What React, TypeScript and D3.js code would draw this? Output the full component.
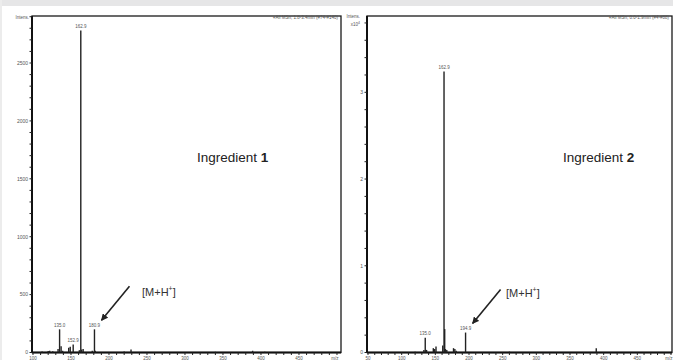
import { useEffect, useRef } from "react";
import * as d3 from "d3";

// Ingredient 1 spectrum (counts)
const mzOne = [112, 120, 122, 126, 133, 135.0, 137, 139, 147, 149, 152.9, 161, 162.9, 164, 166, 178, 180.9, 182, 220, 229, 270, 340, 389, 405];
const intensityOne = [8, 12, 15, 10, 30, 200, 55, 15, 40, 50, 70, 20, 2780, 25, 30, 15, 200, 15, 8, 25, 5, 6, 15, 6];
const labelsOne = [135.0, 152.9, 162.9, 180.9];

// Ingredient 2 spectrum (x10^4)
const mzTwo = [100, 120, 133, 135.0, 137, 147, 149, 151, 161, 162.9, 163.9, 165, 167, 177, 179, 181, 194.9, 260, 389];
const intensityTwo = [0.005, 0.01, 0.03, 0.17, 0.03, 0.05, 0.04, 0.07, 0.08, 3.24, 0.27, 0.04, 0.03, 0.05, 0.04, 0.02, 0.23, 0.01, 0.05];
const labelsTwo = [135.0, 162.9, 194.9];

const xTicksOne = [100, 150, 200, 250, 300, 350, 400, 450];
const xTicksTwo = [50, 100, 150, 200, 250, 300, 350, 400, 450];
const yTicksOne = [0, 500, 1000, 1500, 2000, 2500];
const yTicksTwo = [0, 1, 2, 3];

const panels = [
  {
    mz: mzOne, intensity: intensityOne, labels: labelsOne,
    xTicks: xTicksOne, yTicks: yTicksOne,
    xDomain: [98.7, 505.3], yMax: 2906, minorY: 100,
    left: 32, right: 341, title: "+All MSn, 1.8-3.4min (#74-#140)",
    name: "1", namePos: [197, 162], mh: 180.9, mhText: [142, 296],
  },
  {
    mz: mzTwo, intensity: intensityTwo, labels: labelsTwo,
    xTicks: xTicksTwo, yTicks: yTicksTwo,
    xDomain: [48.5, 501.5], yMax: 3.88, minorY: 0.2,
    left: 367, right: 672, title: "+All MSn, 0.0-1.9min (#4-#88)",
    name: "2", namePos: [563, 162], mh: 194.9, mhText: [506, 297],
  },
];

function App() {
  const svgRef = useRef<SVGSVGElement>(null);

  useEffect(() => {
    const width = 673;
    const height = 360;
    const top = 16;
    const bottom = 352.5;
    const font = "Arial, 'Liberation Sans', sans-serif";

    const svg = d3.select(svgRef.current);
    svg.selectAll("*").remove();
    svg.attr("width", width).attr("height", height).style("font-family", font);

    svg.append("rect").attr("width", width).attr("height", height).attr("fill", "#fff");
    svg.append("rect").attr("width", width).attr("height", 6).attr("fill", "#e6e6e7");
    svg.append("rect").attr("width", 2).attr("height", height).attr("fill", "#ececec");

    const defs = svg.append("defs");
    defs.append("marker")
      .attr("id", "head")
      .attr("viewBox", "0 0 10 10")
      .attr("refX", 9).attr("refY", 5)
      .attr("markerWidth", 7).attr("markerHeight", 7)
      .attr("markerUnits", "userSpaceOnUse")
      .attr("orient", "auto")
      .append("path").attr("d", "M0,0 L10,5 L0,10 z").attr("fill", "#222");

    panels.forEach((p) => {
      const x = d3.scaleLinear().domain(p.xDomain).range([p.left, p.right]);
      const y = d3.scaleLinear().domain([0, p.yMax]).range([bottom, top]);
      const g = svg.append("g");

      // box
      g.append("rect")
        .attr("x", p.left).attr("y", top)
        .attr("width", p.right - p.left).attr("height", bottom - top)
        .attr("fill", "none").attr("stroke", "#1a1a1a").attr("stroke-width", 1.3);
      g.append("line")
        .attr("x1", p.left).attr("x2", p.left).attr("y1", top).attr("y2", bottom)
        .attr("stroke", "#111").attr("stroke-width", 2);
      g.append("line")
        .attr("x1", p.left).attr("x2", p.right).attr("y1", bottom).attr("y2", bottom)
        .attr("stroke", "#111").attr("stroke-width", 2);

      // y ticks
      const minor = d3.range(0, p.yMax, p.minorY);
      g.selectAll(".ymin").data(minor).join("line")
        .attr("x1", p.left - 2.5).attr("x2", p.left)
        .attr("y1", (d) => y(d)).attr("y2", (d) => y(d))
        .attr("stroke", "#222").attr("stroke-width", 1);
      g.selectAll(".ylab").data(p.yTicks).join("text")
        .attr("x", p.left - 4).attr("y", (d) => y(d) + 1.8)
        .attr("text-anchor", "end").attr("font-size", 5).attr("fill", "#555")
        .text((d) => String(d));

      // x ticks
      const xMinor = d3.range(Math.ceil(p.xDomain[0] / 10) * 10, p.xDomain[1], 10);
      g.selectAll(".xmin").data(xMinor).join("line")
        .attr("x1", (d) => x(d)).attr("x2", (d) => x(d))
        .attr("y1", bottom).attr("y2", bottom + 2.5)
        .attr("stroke", "#222").attr("stroke-width", 1);
      g.selectAll(".xlab").data(p.xTicks).join("text")
        .attr("x", (d) => x(d)).attr("y", bottom + 7)
        .attr("text-anchor", "middle").attr("font-size", 4.5).attr("fill", "#555")
        .text((d) => String(d));
      g.append("text")
        .attr("x", x(500) - 2).attr("y", bottom + 7)
        .attr("text-anchor", "middle").attr("font-size", 4.5).attr("fill", "#555")
        .text("m/z");

      // peaks
      const peaks = p.mz.map((m, i) => ({ m, v: p.intensity[i] }));
      g.selectAll(".peak").data(peaks).join("line")
        .attr("x1", (d) => x(d.m)).attr("x2", (d) => x(d.m))
        .attr("y1", bottom).attr("y2", (d) => y(d.v))
        .attr("stroke", "#222").attr("stroke-width", 1.4);
      g.selectAll(".plab").data(peaks.filter((d) => p.labels.includes(d.m))).join("text")
        .attr("x", (d) => x(d.m)).attr("y", (d) => y(d.v) - 2.5)
        .attr("text-anchor", "middle").attr("font-size", 4.5).attr("fill", "#555")
        .text((d) => d.m.toFixed(1));

      // header texts
      g.append("text")
        .attr("x", p.right - 3).attr("y", top + 3)
        .attr("text-anchor", "end").attr("font-size", 4.5).attr("fill", "#555")
        .text(p.title);

      // ingredient name
      const nm = g.append("text")
        .attr("x", p.namePos[0]).attr("y", p.namePos[1])
        .attr("font-size", 13.5).attr("fill", "#222");
      nm.append("tspan").text("Ingredient ");
      nm.append("tspan").attr("font-weight", "bold").text(p.name);

      // [M+H+] arrow
      const mhIdx = p.mz.indexOf(p.mh);
      const tipX = x(p.mh) + 7;
      const tipY = y(p.intensity[mhIdx]) - 9;
      g.append("line")
        .attr("x1", tipX + 28).attr("y1", tipY - 34)
        .attr("x2", tipX).attr("y2", tipY)
        .attr("stroke", "#222").attr("stroke-width", 1.6)
        .attr("marker-end", "url(#head)");
      const mh = g.append("text")
        .attr("x", p.mhText[0]).attr("y", p.mhText[1])
        .attr("font-size", 11).attr("fill", "#333");
      mh.append("tspan").text("[M+H");
      mh.append("tspan").attr("font-size", 7).attr("dy", -5).text("+");
      mh.append("tspan").attr("dy", 5).text("]");
    });

    // y-axis titles
    svg.append("text").attr("x", 29).attr("y", 19)
      .attr("text-anchor", "end").attr("font-size", 4.5).attr("fill", "#555").text("Intens.");
    svg.append("text").attr("x", 360).attr("y", 18)
      .attr("text-anchor", "end").attr("font-size", 4.5).attr("fill", "#555").text("Intens.");
    const e4 = svg.append("text").attr("x", 360).attr("y", 26)
      .attr("text-anchor", "end").attr("font-size", 4.5).attr("fill", "#555");
    e4.append("tspan").text("x10");
    e4.append("tspan").attr("font-size", 3.5).attr("dy", -2).text("4");
  }, []);

  return (
    <div style={{ position: "fixed", left: 0, top: 0 }}>
      <svg ref={svgRef}></svg>
    </div>
  );
}

export default App;
